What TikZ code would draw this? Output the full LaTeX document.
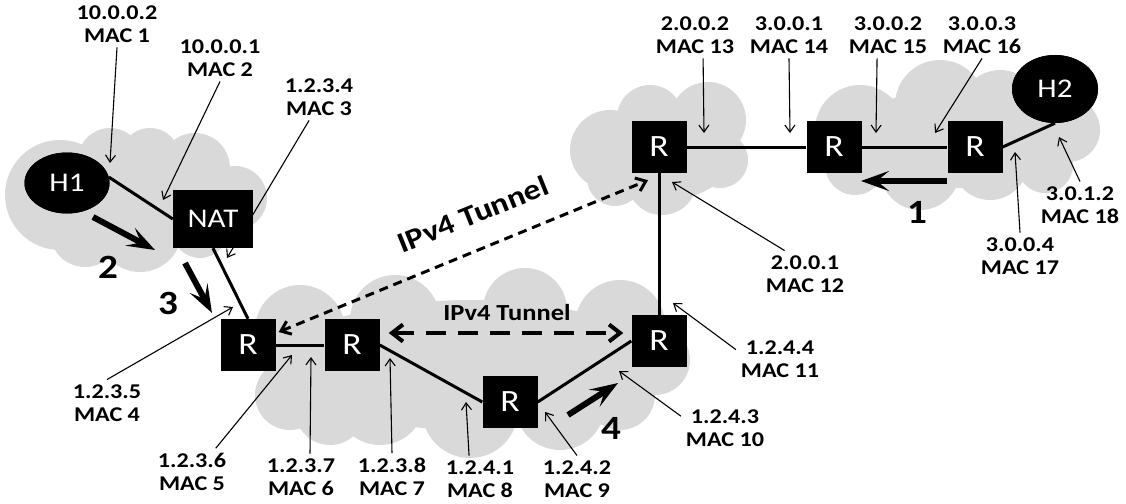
\documentclass[tikz,border=0pt]{standalone}
\usepackage{fontspec}
\setmainfont{Carlito}[FakeStretch=1.15]
\usetikzlibrary{arrows.meta,shapes.geometric,calc}
\definecolor{cloudg}{gray}{0.85}
\begin{document}
\begin{tikzpicture}[x=1pt,y=-1pt,
  lbl/.style={font=\fontsize{21}{23}\selectfont\bfseries, align=center, inner sep=0pt, outer sep=5pt},
  router/.style={rectangle, fill=black, text=white, minimum width=55pt, minimum height=52pt, inner sep=0pt, font=\fontsize{31}{31}\selectfont},
  host/.style={ellipse, fill=black, text=white, inner sep=0pt, font=\fontsize{27}{27}\selectfont},
  link/.style={line width=3pt},
  ptr/.style={line width=1.1pt, -{Straight Barb[length=7pt,width=10pt]}},
  bigarrow/.style={line width=6pt, -{Stealth[length=28pt,width=20pt,inset=12pt]}},
  num/.style={font=\fontsize{34}{34}\selectfont\bfseries, inner sep=0pt},
  tunnelA/.style={line width=3pt, dash pattern=on 9pt off 6pt, {Straight Barb[length=9pt,width=14pt]}-{Straight Barb[length=9pt,width=14pt]}},
  tunnelB/.style={line width=4pt, dash pattern=on 20pt off 12pt, {Straight Barb[length=11pt,width=17pt]}-{Straight Barb[length=11pt,width=17pt]}},
  tlabel/.style={font=\bfseries, inner sep=0pt}
]
\useasboundingbox (0,0) rectangle (1126,503);
% clouds
\fill[cloudg] (60,195) circle[radius=55pt] (110,160) circle[radius=32pt] (150,158) circle[radius=30pt]
  (195,168) circle[radius=35pt] (235,198) circle[radius=32pt] (200,230) circle[radius=28pt]
  (140,230) circle[radius=42pt] (85,232) circle[radius=35pt]
  (140,200) ellipse[x radius=100pt, y radius=50pt];
\fill[cloudg] (300,330) circle[radius=45pt] (290,395) circle[radius=35pt] (395,320) circle[radius=45pt]
  (525,310) circle[radius=42pt] (620,325) circle[radius=45pt] (655,360) circle[radius=35pt]
  (380,400) circle[radius=45pt] (470,410) circle[radius=48pt] (560,405) circle[radius=45pt]
  (460,350) circle[radius=50pt] (620,395) circle[radius=35pt] (330,410) circle[radius=35pt]
  (470,365) ellipse[x radius=190pt, y radius=65pt];
\fill[cloudg] (610,150) circle[radius=40pt] (650,118) circle[radius=33pt] (708,120) circle[radius=38pt]
  (720,160) circle[radius=28pt] (662,180) circle[radius=35pt] (615,178) circle[radius=28pt]
  (660,150) circle[radius=40pt] (665,150) ellipse[x radius=70pt, y radius=50pt];
\fill[cloudg] (860,130) circle[radius=45pt] (940,105) circle[radius=45pt] (1000,110) circle[radius=40pt]
  (1068,130) circle[radius=32pt] (920,170) circle[radius=40pt] (990,162) circle[radius=38pt]
  (855,165) circle[radius=30pt] (1045,165) circle[radius=28pt]
  (955,140) ellipse[x radius=125pt, y radius=48pt];

% devices
\node[host, minimum width=85pt, minimum height=61pt] (H1) at (67,183) {H1};
\node[router, minimum width=80pt, minimum height=58pt, font=\fontsize{27}{27}\selectfont] (NAT) at (213,219) {NAT};
\node[router] (R1) at (248,345) {R};
\node[router] (R2) at (352,345) {R};
\node[router] (R3) at (510,402) {R};
\node[router] (R4) at (659,341) {R};
\node[router] (R5) at (659,147) {R};
\node[router] (R6) at (834,147) {R};
\node[router] (R7) at (975,147) {R};
\node[host, minimum width=86pt, minimum height=68pt] (H2) at (1055,89) {H2};

% labels
\node[lbl] (l1) at (117,24) {10.0.0.2\\MAC 1};
\node[lbl] (l2) at (220,58) {10.0.0.1\\MAC 2};
\node[lbl] (l3) at (319,97) {1.2.3.4\\MAC 3};
\node[lbl] (l4) at (107,403) {1.2.3.5\\MAC 4};
\node[lbl] (l5) at (192,472) {1.2.3.6\\MAC 5};
\node[lbl] (l6) at (301,477) {1.2.3.7\\MAC 6};
\node[lbl] (l7) at (392,477) {1.2.3.8\\MAC 7};
\node[lbl] (l8) at (480,479) {1.2.4.1\\MAC 8};
\node[lbl] (l9) at (577,479) {1.2.4.2\\MAC 9};
\node[lbl] (l10) at (725,428) {1.2.4.3\\MAC 10};
\node[lbl] (l11) at (780,359) {1.2.4.4\\MAC 11};
\node[lbl] (l12) at (805,274) {2.0.0.1\\MAC 12};
\node[lbl] (l13) at (695,35) {2.0.0.2\\MAC 13};
\node[lbl] (l14) at (789,35) {3.0.0.1\\MAC 14};
\node[lbl] (l15) at (888,35) {3.0.0.2\\MAC 15};
\node[lbl] (l16) at (982,35) {3.0.0.3\\MAC 16};
\node[lbl] (l17) at (1020,256) {3.0.0.4\\MAC 17};
\node[lbl] (l18) at (1080,205) {3.0.1.2\\MAC 18};

% pointer tips
\coordinate (t1) at (110,163);
\coordinate (t2) at (163,200);
\coordinate (t3) at (227,258);
\coordinate (t4) at (233,307);
\coordinate (t5) at (292,355);
\coordinate (t6) at (311,357);
\coordinate (t7) at (390,358);
\coordinate (t8) at (466,402);
\coordinate (t9) at (545,412);
\coordinate (t10) at (619,371);
\coordinate (t11) at (673,303);
\coordinate (t12) at (672,182);
\coordinate (t13) at (704,133);
\coordinate (t14) at (790,133);
\coordinate (t15) at (876,133);
\coordinate (t16) at (935,133);
\coordinate (t17) at (1015,152);
\coordinate (t18) at (1059,137);

% links
\draw[link] (H1.8) -- (NAT.west);
\draw[link] (NAT.south) -- (R1.north);
\draw[link] (R1) -- (R2);
\draw[link] (R2.east) -- (R3.west);
\draw[link] (R3.east) -- (R4.west);
\draw[link] (R4.north) -- (R5.south);
\draw[link] (R5) -- (R6);
\draw[link] (R6) -- (R7);
\draw[link] (R7.east) -- (H2.south);

% tunnels
\draw[tunnelA] ($(R1.east)+(3,-13)$) -- ($(R5.south)+(-11,7)$);
\draw[tunnelB] ($(R2.east)+(9,-12)$) -- ($(R4.west)+(-8,-8)$);
\node[tlabel, font=\fontsize{29}{29}\selectfont\bfseries, rotate=22] (tl1) at (473,214) {IPv4 Tunnel};
\node[tlabel, font=\fontsize{23}{23}\selectfont\bfseries] (tl2) at (507,313) {IPv4 Tunnel};

% pointers
\draw[ptr] (l1.south) -- (t1);
\draw[ptr] (l2.south) -- (t2);
\draw[ptr] (l3.247) -- (t3);
\draw[ptr] (l4.north) -- (t4);
\draw[ptr] (l5.45) -- (t5);
\draw[ptr] (l6.69) -- (t6);
\draw[ptr] (l7.north) -- (t7);
\draw[ptr] (l8.115) -- (t8);
\draw[ptr] (l9.north) -- (t9);
\draw[ptr] (l10.165) -- (t10);
\draw[ptr] (l11.168) -- (t11);
\draw[ptr] (l12.131) -- (t12);
\draw[ptr] (l13.289) -- (t13);
\draw[ptr] (l14.south) -- (t14);
\draw[ptr] (l15.245) -- (t15);
\draw[ptr] (l16.south) -- (t16);
\draw[ptr] (l17.north) -- (t17);
\draw[ptr] (l18.north) -- (t18);

% redraw devices on top of pointers
\node[host, minimum width=85pt, minimum height=61pt] at (H1) {H1};
\node[router, minimum width=80pt, minimum height=58pt, font=\fontsize{27}{27}\selectfont] at (NAT) {NAT};
\foreach \r in {R1,R2,R3,R4,R5,R6,R7} \node[router] at (\r) {R};
\node[host, minimum width=86pt, minimum height=68pt] at (H2) {H2};

% step arrows
\coordinate (a1s) at (947,181); \coordinate (a1e) at (861,181);
\coordinate (a2s) at (93,217);  \coordinate (a2e) at (155,250);
\coordinate (a3s) at (185,263); \coordinate (a3e) at (212,313);
\coordinate (a4s) at (568,415); \coordinate (a4e) at (618,383);
\draw[bigarrow] (a1s) -- (a1e);
\draw[bigarrow] (a2s) -- (a2e);
\draw[bigarrow] (a3s) -- (a3e);
\draw[bigarrow] (a4s) -- (a4e);
\node[num] (n1) at (917,212) {1};
\node[num] (n2) at (108,267) {2};
\node[num] (n3) at (168,303) {3};
\node[num] (n4) at (611,428) {4};
\end{tikzpicture}
\end{document}
